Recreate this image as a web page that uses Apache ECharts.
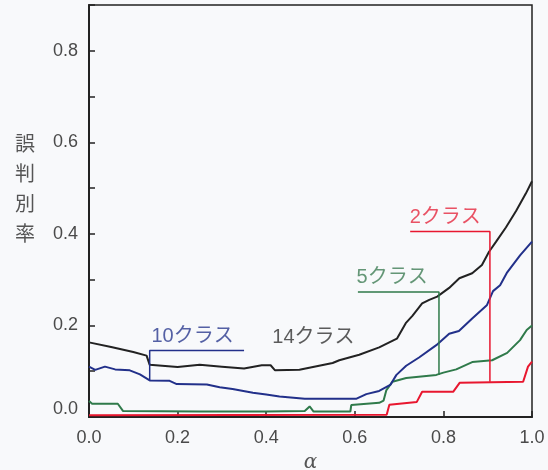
<!DOCTYPE html>
<html>
<head>
<meta charset="utf-8">
<script src="https://cdn.jsdelivr.net/npm/echarts@6/dist/echarts.min.js"></script>
<style>html,body{margin:0;padding:0;background:#f8f9fb;}#c{width:548px;height:470px;}</style>
</head>
<body>
<div id="c"></div>
<script>
// ---- data (alpha, error rate) ----
const xTicks = [0, 0.2, 0.4, 0.6, 0.8, 1.0];
const yTickLabels = [0, 0.2, 0.4, 0.6, 0.8];

const class14 = [[0,0.163],[0.05,0.153],[0.10,0.142],[0.13,0.134],[0.137,0.114],[0.20,0.109],[0.25,0.114],[0.30,0.110],[0.35,0.106],[0.39,0.113],[0.41,0.113],[0.42,0.102],[0.475,0.103],[0.50,0.108],[0.55,0.118],[0.565,0.124],[0.61,0.136],[0.655,0.152],[0.695,0.171],[0.715,0.205],[0.73,0.221],[0.752,0.248],[0.768,0.256],[0.786,0.263],[0.813,0.282],[0.836,0.303],[0.865,0.314],[0.887,0.332],[0.903,0.361],[0.919,0.383],[0.941,0.414],[0.964,0.450],[0.986,0.488],[1.0,0.515]];

const class10 = [[0,0.110],[0.014,0.103],[0.036,0.110],[0.059,0.104],[0.092,0.102],[0.115,0.093],[0.137,0.080],[0.182,0.079],[0.198,0.072],[0.266,0.071],[0.295,0.065],[0.324,0.061],[0.37,0.053],[0.40,0.049],[0.43,0.045],[0.487,0.040],[0.604,0.040],[0.626,0.050],[0.655,0.057],[0.68,0.070],[0.694,0.092],[0.716,0.112],[0.745,0.130],[0.784,0.157],[0.813,0.182],[0.835,0.188],[0.865,0.215],[0.898,0.244],[0.912,0.275],[0.928,0.288],[0.944,0.316],[0.973,0.353],[1.0,0.383]];

const class5 = [[0,0.035],[0.007,0.029],[0.065,0.029],[0.077,0.013],[0.25,0.012],[0.40,0.012],[0.487,0.013],[0.498,0.023],[0.507,0.012],[0.59,0.012],[0.592,0.026],[0.655,0.031],[0.665,0.036],[0.671,0.058],[0.685,0.077],[0.716,0.085],[0.784,0.092],[0.80,0.097],[0.829,0.104],[0.865,0.120],[0.91,0.124],[0.944,0.140],[0.973,0.168],[0.988,0.190],[1.0,0.200]];

const class2 = [[0,0.004],[0.672,0.005],[0.678,0.027],[0.74,0.033],[0.752,0.055],[0.822,0.055],[0.837,0.075],[0.98,0.077],[0.991,0.110],[1.0,0.121]];

// leader lines for annotations
const lead10 = [[0.137,0.080],[0.137,0.145],[0.35,0.145]];
const lead5 = [[0.79,0.092],[0.79,0.273],[0.607,0.273]];
const lead2 = [[0.905,0.077],[0.905,0.405],[0.725,0.405]];

// annotation labels
const labelNames = ['10クラス','14クラス','5クラス','2クラス'];
const labelPos = [[0.142,0.145],[0.415,0.143],[0.605,0.273],[0.725,0.405]];
const labelColors = ['#2b3a8f','#333333','#3f7d55','#e5283f'];

// ---- styles ----
const C14 = '#222222', C10 = '#22308a', C5 = '#2f7a4a', C2 = '#e8172f';
const tickFont = {fontSize:18, color:'#4a4a4a', fontFamily:'Liberation Sans'};

function lineSeries(data, color, width){
  return {type:'line', data:data, symbol:'none', showSymbol:false, silent:true,
    lineStyle:{color:color, width:width}, z:3};
}

const chart = echarts.init(document.getElementById('c'), null, {renderer:'canvas'});
const option = {
  backgroundColor:'#f8f9fb',
  animation:false,
  grid:{left:89, right:16, top:5, bottom:53, show:true, borderColor:'#222', borderWidth:1.5,
    backgroundColor:'transparent', containLabel:false, outerBoundsMode:'none'},
  xAxis:{
    type:'value', min:0, max:1, interval:0.2,
    name:'α', nameLocation:'middle', nameGap:36,
    nameTextStyle:{fontFamily:'DejaVu Serif', fontStyle:'italic', fontSize:20, color:'#555'},
    axisLine:{show:true, onZero:false, lineStyle:{color:'#222', width:2}},
    axisTick:{show:true, inside:true, length:6, lineStyle:{color:'#222', width:1.5}},
    axisLabel:Object.assign({margin:12, formatter:v=>xTicks.some(t=>Math.abs(t-v)<1e-6)?v.toFixed(1):''}, tickFont),
    splitLine:{show:false}
  },
  yAxis:{
    type:'value', min:0, max:0.9, interval:0.1,
    axisLine:{show:true, onZero:false, lineStyle:{color:'#222', width:2}},
    axisTick:{show:true, inside:true, length:6, lineStyle:{color:'#222', width:1.5}},
    axisLabel:Object.assign({margin:11,
      formatter:function(v){
        if(!yTickLabels.some(t=>Math.abs(t-v)<1e-6)) return '';
        if(Math.abs(v)<1e-6) return '{up|0.0}';
        return v.toFixed(1);
      },
      rich:{up:{fontSize:18, color:'#4a4a4a', fontFamily:'Liberation Sans', padding:[0,0,16,0]}}
    }, tickFont),
    splitLine:{show:false}
  },
  graphic:[{
    type:'text', left:15, top:128,
    style:{text:'誤\n判\n別\n率', font:'20px "Noto Sans CJK JP"', fill:'#555', lineHeight:30, align:'left'}
  }],
  series:[
    lineSeries(class2, C2, 2),
    lineSeries(class5, C5, 2),
    lineSeries(class10, C10, 2),
    lineSeries(class14, C14, 2),
    lineSeries(lead10, C10, 1.5),
    lineSeries(lead5, C5, 1.5),
    lineSeries(lead2, C2, 1.5),
    {
      type:'scatter', symbolSize:1, silent:true, z:5,
      itemStyle:{color:'rgba(0,0,0,0)'},
      data:labelNames.map((n,i)=>({value:labelPos[i], name:n,
        label:{show:true, formatter:n, position:[0,-4], align:'left', verticalAlign:'bottom',
          color:labelColors[i], fontSize:20, letterSpacing:2, fontFamily:'"Liberation Sans","Noto Sans CJK JP"'}}))
    }
  ]
};
chart.setOption(option);
</script>
</body>
</html>
